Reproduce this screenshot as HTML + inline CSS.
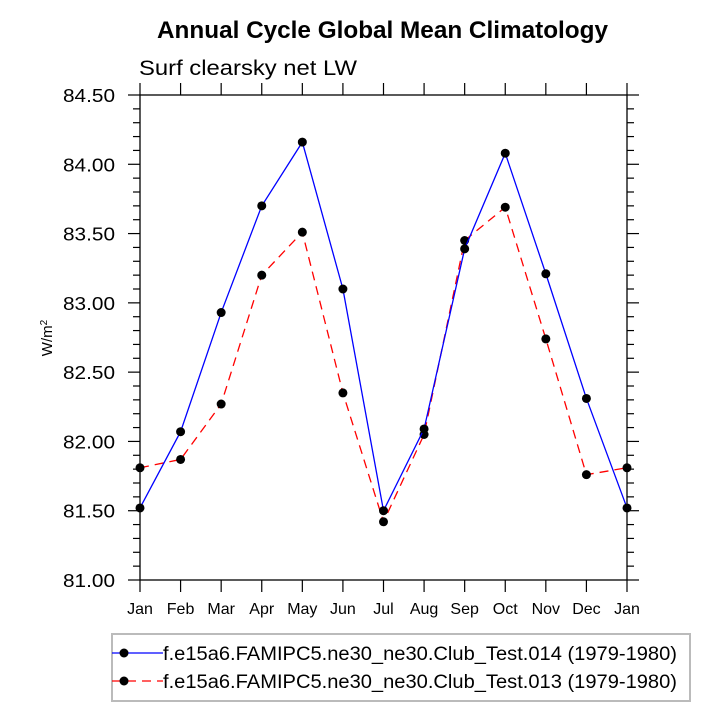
<!DOCTYPE html>
<html><head><meta charset="utf-8"><style>
body{margin:0;background:#fff}
svg{display:block;font-family:"Liberation Sans",Helvetica,Arial,sans-serif}
</style></head><body>
<svg id="c" width="720" height="720" viewBox="0 0 720 720">
<text x="157" y="38" font-size="24" font-weight="bold" textLength="451" lengthAdjust="spacingAndGlyphs">Annual Cycle Global Mean Climatology</text>
<text x="139" y="75" font-size="21" textLength="218" lengthAdjust="spacingAndGlyphs">Surf clearsky net LW</text>
<text transform="translate(52,338) rotate(-90)" text-anchor="middle" font-size="15">W/m<tspan dy="-5" font-size="10">2</tspan></text>
<g id="axes"></g>
<g id="series"></g>
<g>
<rect x="112" y="634" width="578" height="67" fill="none" stroke="#bbb" stroke-width="2"/>
<g>
<line x1="112" y1="653" x2="163" y2="653" stroke="#0000ff" stroke-width="1.3"/>
<circle cx="124" cy="653" r="4.5" fill="#000"/>
<text x="163" y="660" font-size="19" textLength="514" lengthAdjust="spacingAndGlyphs">f.e15a6.FAMIPC5.ne30_ne30.Club_Test.014 (1979-1980)</text>
</g>
<g>
<line x1="112" y1="681" x2="163" y2="681" stroke="#ff0000" stroke-width="1.3" stroke-dasharray="9,6"/>
<circle cx="124" cy="681" r="4.5" fill="#000"/>
<text x="163" y="688" font-size="19" textLength="514" lengthAdjust="spacingAndGlyphs">f.e15a6.FAMIPC5.ne30_ne30.Club_Test.013 (1979-1980)</text>
</g>
</g>
</svg>
<script>
const months=["Jan","Feb","Mar","Apr","May","Jun","Jul","Aug","Sep","Oct","Nov","Dec","Jan"];
const test014=[81.52,82.07,82.93,83.70,84.16,83.10,81.50,82.09,83.39,84.08,83.21,82.31,81.52];
const test013=[81.81,81.87,82.27,83.20,83.51,82.35,81.42,82.05,83.45,83.69,82.74,81.76,81.81];
const yTicks=["81.00","81.50","82.00","82.50","83.00","83.50","84.00","84.50"];
const L=140,R=627,T=95,B=580,ymin=81,ymax=84.5;
const xs=i=>L+i*(R-L)/12;
const ys=v=>B-(v-ymin)/(ymax-ymin)*(B-T);
const NS="http://www.w3.org/2000/svg";
function mk(t,a,p){const e=document.createElementNS(NS,t);for(const k in a)e.setAttribute(k,a[k]);p.appendChild(e);return e;}
const ax=document.getElementById('axes');
const fr=mk('rect',{x:L,y:T,width:R-L,height:B-T,fill:'none',stroke:'#000','stroke-width':1.3},ax);


for(let i=0;i<months.length;i++){
  const x=xs(i);
  mk('line',{x1:x,y1:B,x2:x,y2:B+12,stroke:'#000','stroke-width':1.2},ax);
  mk('line',{x1:x,y1:T,x2:x,y2:T-12,stroke:'#000','stroke-width':1.2},ax);
  const t=mk('text',{x:x,y:B+34,'text-anchor':'middle','font-size':16},ax);
  t.textContent=months[i];
  
  
}
for(let v=0;v<=35;v++){
  const val=ymin+v*0.1,y=ys(val),maj=v%5===0,len=maj?12:7;
  mk('line',{x1:L,y1:y,x2:L-len,y2:y,stroke:'#000','stroke-width':1.2},ax);
  mk('line',{x1:R,y1:y,x2:R+len,y2:y,stroke:'#000','stroke-width':1.2},ax);
}
yTicks.forEach(s=>{
  const t=mk('text',{x:63,y:ys(parseFloat(s))+7,'font-size':18,textLength:52,lengthAdjust:'spacingAndGlyphs'},ax);
  t.textContent=s;
  
  
});
const sg=document.getElementById('series');
function draw(vals,color,dash,name){
  const g=mk('g',{},sg);
  
  
  const p=mk('polyline',{points:vals.map((v,i)=>xs(i)+','+ys(v)).join(' '),fill:'none',stroke:color,'stroke-width':1.3},g);
  if(dash)p.setAttribute('stroke-dasharray',dash);
  vals.forEach((v,i)=>{
    const c=mk('circle',{cx:xs(i),cy:ys(v),r:4.5,fill:'#000'},g);
    
    
  });
}
draw(test013,'#ff0000','9,6','series-test013');
draw(test014,'#0000ff',null,'series-test014');
</script>
</body></html>
